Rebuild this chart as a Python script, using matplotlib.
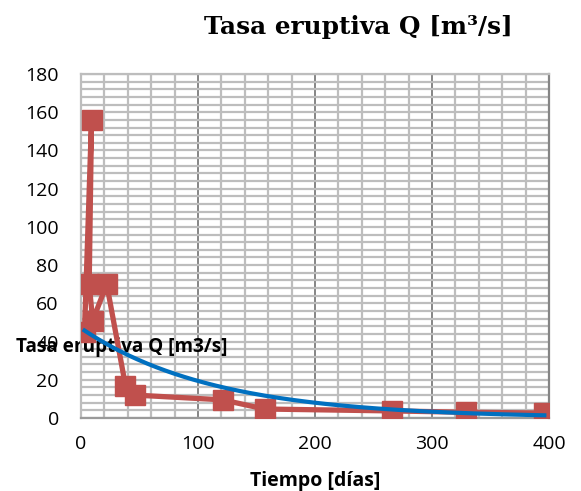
import numpy as np
import matplotlib.pyplot as plt
from matplotlib.ticker import MultipleLocator

# eruption rate measurements
dias = [3, 9, 7, 10, 22, 38, 46, 121, 157, 266, 329, 396]
tasa_q = [45, 156, 70, 51, 70, 17, 12, 9.5, 4.7, 3.7, 3.0, 2.6]

x_ticks = [0, 100, 200, 300, 400]
y_ticks = [0, 20, 40, 60, 80, 100, 120, 140, 160, 180]

RED = "#C0504D"
BLUE = "#0070C0"

# exponential trendline (least squares on ln Q)
x_arr = np.array(dias, dtype=float)
slope, intercept = np.polyfit(x_arr, np.log(tasa_q), 1)
x_fit = np.linspace(x_arr.min(), x_arr.max(), 200)
y_fit = np.exp(intercept + slope * x_fit)

fig = plt.figure(figsize=(5.81, 4.91), dpi=100)
ax = fig.add_axes([81 / 581, 1 - 418 / 491, 468 / 581, 344 / 491])

ax.plot(dias, tasa_q, color=RED, lw=3.8, marker="s", ms=14.5,
        mfc=RED, mec=RED, solid_joinstyle="miter", zorder=3)
ax.plot(x_fit, y_fit, color=BLUE, lw=3, zorder=4)

ax.set_xlim(0, 400)
ax.set_ylim(0, 180)
ax.set_xticks(x_ticks)
ax.set_yticks(y_ticks)
ax.xaxis.set_minor_locator(MultipleLocator(20))
ax.yaxis.set_minor_locator(MultipleLocator(4))
ax.grid(which="minor", color="#bdbdbd", lw=1.6, zorder=0)
ax.grid(which="major", axis="y", color="#bdbdbd", lw=1.6, zorder=0)
ax.grid(which="major", axis="x", color="#858585", lw=1.4, zorder=1)
ax.set_axisbelow(True)
ax.tick_params(which="both", length=0)
ax.tick_params(axis="x", pad=12)
ax.tick_params(axis="y", pad=16)
for lbl in ax.get_xticklabels() + ax.get_yticklabels():
    lbl.set_fontfamily("Open Sans")
    lbl.set_fontsize(14)

for side in ["top", "left"]:
    ax.spines[side].set_color("#bdbdbd")
    ax.spines[side].set_linewidth(1.6)
ax.spines["bottom"].set_color("#9a9a9a")
ax.spines["bottom"].set_linewidth(1.6)
ax.spines["right"].set_color("#858585")
ax.spines["right"].set_linewidth(1.6)

ax.set_xlabel("Tiempo [días]", fontfamily="Open Sans", fontweight="bold",
              fontsize=14, labelpad=13)
ax.set_ylabel("Tasa eruptiva Q [m3/s]", fontfamily="Open Sans",
              fontweight="bold", fontsize=13.7, rotation=0,
              ha="center", va="center", zorder=10)
ax.yaxis.set_label_coords(0.088, 0.206)

fig.text(0.617, 0.945, "Tasa eruptiva Q [m³/s]", fontfamily="DejaVu Serif",
         fontweight="bold", fontsize=17.8, ha="center", va="center")

fig.savefig("out.png", dpi=100)
